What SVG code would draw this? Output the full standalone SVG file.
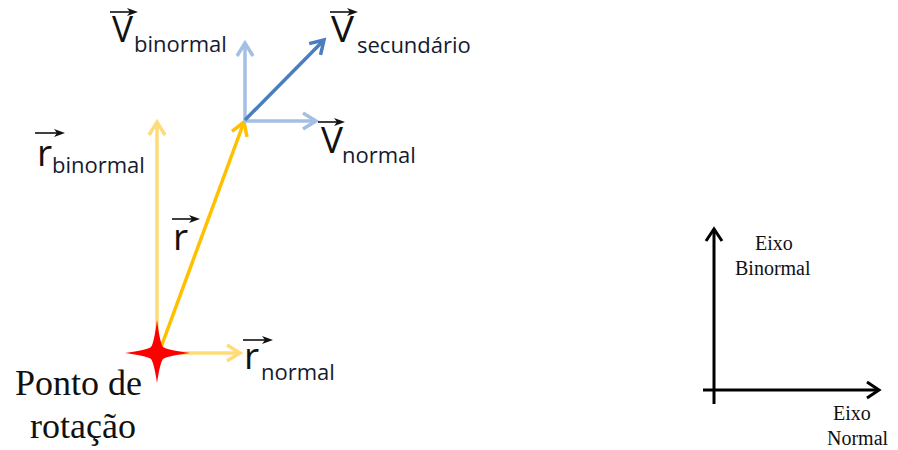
<svg xmlns="http://www.w3.org/2000/svg" width="898" height="450" viewBox="0 0 898 450">
<style>
.vec{fill:none;stroke-width:3.5;stroke-linecap:butt}
.big{font-family:"Open Sans","Liberation Sans",sans-serif;font-size:37px;fill:#111}
.sub{font-family:"Open Sans","Liberation Sans",sans-serif;font-size:22px;fill:#141a2e}
.ser{font-family:"Liberation Serif","Times New Roman",serif;fill:#111}
.ov{stroke:#111;stroke-width:1.6;fill:none}
.ovh{fill:#111}
.ax{stroke:#000;stroke-width:3;fill:none}
</style>
<defs>
<marker id="mPale" markerUnits="userSpaceOnUse" viewBox="-16 -12 20 24" refX="0" refY="0" markerWidth="20" markerHeight="24" orient="auto" overflow="visible"><path d="M-13,-8 L0,0 L-13,8" fill="none" stroke="#FFDB7A" stroke-width="3.5" stroke-linejoin="miter"/></marker>
<marker id="mOr" markerUnits="userSpaceOnUse" viewBox="-16 -12 20 24" refX="0" refY="0" markerWidth="20" markerHeight="24" orient="auto" overflow="visible"><path d="M-13,-8 L0,0 L-13,8" fill="none" stroke="#FFC000" stroke-width="3.5"/></marker>
<marker id="mLb" markerUnits="userSpaceOnUse" viewBox="-16 -12 20 24" refX="0" refY="0" markerWidth="20" markerHeight="24" orient="auto" overflow="visible"><path d="M-13,-8 L0,0 L-13,8" fill="none" stroke="#A3BFE3" stroke-width="3.5"/></marker>
<marker id="mDb" markerUnits="userSpaceOnUse" viewBox="-16 -12 20 24" refX="0" refY="0" markerWidth="20" markerHeight="24" orient="auto" overflow="visible"><path d="M-13,-8 L0,0 L-13,8" fill="none" stroke="#4A7EBE" stroke-width="3.5"/></marker>
<marker id="mAx" markerUnits="userSpaceOnUse" viewBox="-16 -12 20 24" refX="0" refY="0" markerWidth="20" markerHeight="24" orient="auto" overflow="visible"><path d="M-12,-8 L0,0 L-12,8" fill="none" stroke="#000" stroke-width="3"/></marker>
</defs>

<g id="connectors">
<line class="vec" x1="157" y1="353" x2="157" y2="122" stroke="#FFDB7A" marker-end="url(#mPale)"/>
<line class="vec" x1="157" y1="353" x2="240" y2="353" stroke="#FFDB7A" marker-end="url(#mPale)"/>
<line class="vec" x1="160" y1="350" x2="244" y2="122" stroke="#FFC000" marker-end="url(#mOr)"/>
<line class="vec" x1="245" y1="122" x2="245" y2="43" stroke="#A3BFE3" marker-end="url(#mLb)"/>
<line class="vec" x1="243" y1="121" x2="316" y2="121" stroke="#A3BFE3" marker-end="url(#mLb)"/>
<line class="vec" x1="245" y1="120" x2="324" y2="40" stroke="#4A7EBE" marker-end="url(#mDb)"/>
</g>

<g id="star">
<path d="M157,320 Q160,343 163,347 Q167,350 190,353 Q167,356 163,359 Q160,363 157,383 Q154,363 151,359 Q147,356 125,353 Q147,350 151,347 Q154,343 157,320 Z" fill="#FF0000"/>
</g>

<g id="label-vbinormal">
<line class="ov" x1="110" y1="12" x2="132" y2="12"/><path class="ovh" d="M138,12 L127,8 L130,12 L127,16 Z"/>
<text class="big" x="112" y="42" textLength="21" lengthAdjust="spacingAndGlyphs">V</text>
<text class="sub" x="134" y="52">binormal</text>
</g>

<g id="label-vsec">
<line class="ov" x1="330" y1="12" x2="352" y2="12"/><path class="ovh" d="M358,12 L347,8 L350,12 L347,16 Z"/>
<text class="big" x="331" y="42" textLength="23" lengthAdjust="spacingAndGlyphs">V</text>
<text class="sub" x="357" y="53">secundário</text>
</g>

<g id="label-vnormal">
<line class="ov" x1="318" y1="122" x2="339" y2="122"/><path class="ovh" d="M345,122 L334,118 L337,122 L334,126 Z"/>
<text class="big" x="321" y="153" textLength="22" lengthAdjust="spacingAndGlyphs">V</text>
<text class="sub" x="342" y="163">normal</text>
</g>

<g id="label-rbinormal">
<line class="ov" x1="35" y1="133" x2="59" y2="133"/><path class="ovh" d="M65,133 L54,129 L57,133 L54,137 Z"/>
<text class="big" x="37" y="166">r</text>
<text class="sub" x="52" y="173">binormal</text>
</g>

<g id="label-r">
<line class="ov" x1="172" y1="219" x2="194" y2="219"/><path class="ovh" d="M200,219 L189,215 L192,219 L189,223 Z"/>
<text class="big" x="173" y="250">r</text>
</g>

<g id="label-rnormal">
<line class="ov" x1="243" y1="340" x2="267" y2="340"/><path class="ovh" d="M273,340 L262,336 L265,340 L262,344 Z"/>
<text class="big" x="244" y="369">r</text>
<text class="sub" x="261" y="380">normal</text>
</g>

<g id="label-ponto">
<text class="ser" x="15" y="395" font-size="36">Ponto de</text>
<text class="ser" x="30" y="438" font-size="36">rotação</text>
</g>

<g id="axes">
<line class="ax" x1="714" y1="404" x2="714" y2="229" marker-end="url(#mAx)"/>
<line class="ax" x1="703" y1="390" x2="879" y2="390" marker-end="url(#mAx)"/>
<text class="ser" x="755" y="250" font-size="20">Eixo</text>
<text class="ser" x="735" y="275" font-size="20">Binormal</text>
<text class="ser" x="833" y="420" font-size="20">Eixo</text>
<text class="ser" x="827" y="445" font-size="20">Normal</text>
</g>
</svg>
